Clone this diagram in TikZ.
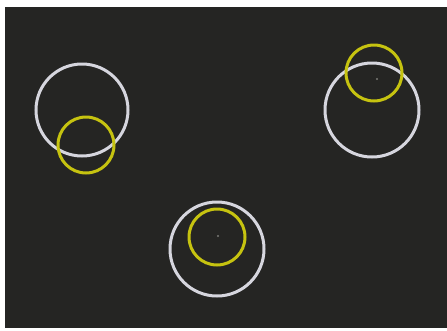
\documentclass[tikz,border=0pt]{standalone}
\usetikzlibrary{positioning}
\definecolor{scBack}{HTML}{252523}
\definecolor{scRing}{HTML}{D6D6DE}
\definecolor{scYellow}{HTML}{C6C310}
\definecolor{scDot}{HTML}{7A7A76}
\tikzset{
  sc/.style={x=1pt, y=-1pt},
  ring/.style={draw=scRing, line width=3pt},
  halo/.style={draw=scYellow, line width=3pt},
  spot/.style={fill=scDot},
}
\begin{document}
\begin{tikzpicture}[sc]
\useasboundingbox (0,0) rectangle (447,330);
\fill[white] (0,0) rectangle (447,330);
\fill[scBack] (5,7) rectangle (447,328);
% left pair
\draw[ring] (82,110) circle (46);
\draw[halo] (86,145) circle (28);
% right pair
\draw[ring] (372,110) circle (47);
\draw[halo] (374,73) circle (28);
\fill[spot] (377,79) circle (1.2);
% bottom pair
\draw[ring] (217,249) circle (47);
\draw[halo] (217,237) circle (28);
\fill[spot] (218,236) circle (1.2);
\end{tikzpicture}
\end{document}
